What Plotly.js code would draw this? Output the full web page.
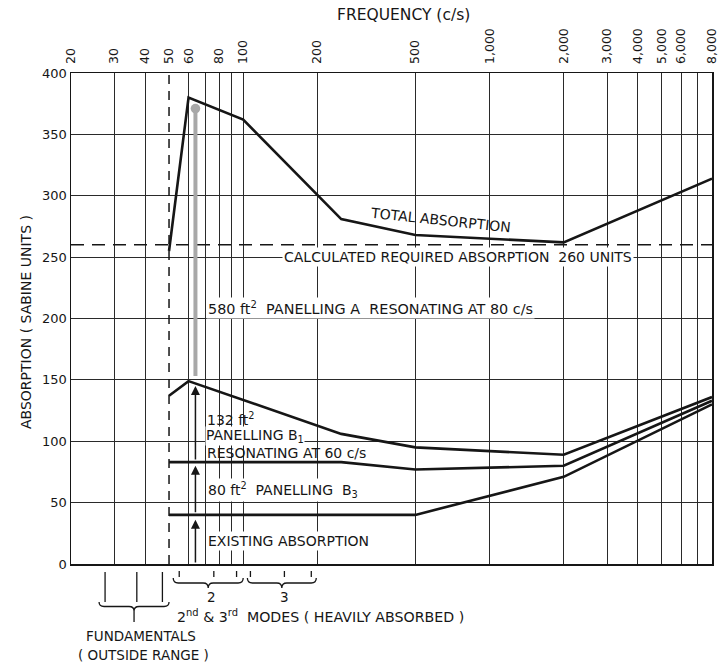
<!DOCTYPE html>
<html>
<head>
<meta charset="utf-8">
<script src="https://cdn.plot.ly/plotly-3.0.1.min.js"></script>
<style>html,body{margin:0;padding:0;background:#fff;}#chart{width:723px;height:667px;}</style>
</head>
<body>
<div id="chart"></div>
<script>
// ---- data ----
const freqLabelVals = [20, 30, 40, 50, 60, 80, 100, 200, 500, 1000, 2000, 3000, 4000, 5000, 6000, 8000];
const freqLabelText = ['20', '30', '40', '50', '60', '80', '100', '200', '500', '1,000', '2,000', '3,000', '4,000', '5,000', '6,000', '8,000'];
const gridFreqs = [30, 40, 60, 70, 80, 90, 100, 200, 500, 1000, 2000, 3000, 4000, 5000, 6000, 7000];

const totalFreq = [50, 60, 100, 250, 500, 2000, 8000];
const totalAbs = [255, 380, 362, 281, 268, 262, 314];

const b1Freq = [50, 60, 250, 500, 2000, 8000];
const b1Abs = [137, 149, 106, 95, 89, 136];

const b3Freq = [50, 250, 500, 2000, 8000];
const b3Abs = [83, 83, 77, 80, 133];

const existingFreq = [50, 500, 2000, 8000];
const existingAbs = [40, 40, 71, 130];

const requiredAbs = 260;
const lowerLimitFreq = 50;
const arrowFreq = 64;
const fundamentalsTicks = [27.5, 37, 47];
const mode2Ticks = [55, 76, 94];
const mode3Ticks = [107, 147, 189];

// ---- layout geometry ----
const W = 723, H = 667;
const M = {l: 71, r: 11, t: 73, b: 103};
const PW = W - M.l - M.r, PH = H - M.t - M.b;
const FMIN = 20, FMAX = 8000;
const px = x => (x - M.l) / PW;          // pixel -> paper x
const py = y => (H - M.b - y) / PH;      // pixel -> paper y
const fpx = f => M.l + PW * Math.log10(f / FMIN) / Math.log10(FMAX / FMIN);

const FONT = 'DejaVu Sans, sans-serif';
const INK = '#161616';

const lineStyle = {color: INK, width: 2.6};
const traces = [
  {x: totalFreq, y: totalAbs, mode: 'lines', line: lineStyle, hoverinfo: 'skip'},
  {x: b1Freq, y: b1Abs, mode: 'lines', line: lineStyle, hoverinfo: 'skip'},
  {x: b3Freq, y: b3Abs, mode: 'lines', line: lineStyle, hoverinfo: 'skip'},
  {x: existingFreq, y: existingAbs, mode: 'lines', line: lineStyle, hoverinfo: 'skip'},
  {x: [FMIN, FMAX], y: [requiredAbs, requiredAbs], mode: 'lines',
   line: {color: INK, width: 1.5, dash: '13px,8px'}, hoverinfo: 'skip'},
  {x: [lowerLimitFreq, lowerLimitFreq], y: [0, 400], mode: 'lines', xaxis: 'x2',
   line: {color: INK, width: 1.5, dash: '9px,7px'}, hoverinfo: 'skip'}
];

function brace(xL, xR, yTop, depth) {
  const mid = (xL + xR) / 2, r = 5, ym = yTop + depth / 2, yb = yTop + depth;
  const P = (x, y) => px(x).toFixed(5) + ',' + py(y).toFixed(5);
  return 'M' + P(xL, yTop) + ' Q' + P(xL, ym) + ' ' + P(xL + r, ym) +
    ' L' + P(mid - r, ym) + ' Q' + P(mid, ym) + ' ' + P(mid, yb) +
    ' Q' + P(mid, ym) + ' ' + P(mid + r, ym) + ' L' + P(xR - r, ym) +
    ' Q' + P(xR, ym) + ' ' + P(xR, yTop);
}

const shapes = [];
const thin = {color: INK, width: 1.3};
fundamentalsTicks.forEach(f => shapes.push({type: 'line', xref: 'paper', yref: 'paper',
  x0: px(fpx(f)), x1: px(fpx(f)), y0: py(572), y1: py(602), line: thin}));
mode2Ticks.concat(mode3Ticks).forEach(f => shapes.push({type: 'line', xref: 'paper', yref: 'paper',
  x0: px(fpx(f)), x1: px(fpx(f)), y0: py(571), y1: py(577), line: thin}));
shapes.push({type: 'path', xref: 'paper', yref: 'paper', path: brace(fpx(26), fpx(50), 602, 9), line: thin});
shapes.push({type: 'line', xref: 'paper', yref: 'paper', x0: px((fpx(26) + fpx(50)) / 2), x1: px((fpx(26) + fpx(50)) / 2), y0: py(611), y1: py(622), line: thin});
shapes.push({type: 'path', xref: 'paper', yref: 'paper', path: brace(fpx(52), fpx(100), 578, 10), line: thin});
shapes.push({type: 'path', xref: 'paper', yref: 'paper', path: brace(fpx(104), fpx(198), 578, 10), line: thin});

const tf = s => ({family: FONT, size: s, color: INK});
const ann = (text, x, y, opts) => Object.assign({text: text, xref: 'paper', yref: 'paper', x: x, y: y,
  showarrow: false, font: tf(14), xanchor: 'center', yanchor: 'middle'}, opts || {});

const annotations = [
  ann('FREQUENCY (c/s)', px(403), py(15), {font: tf(15.5)}),
  ann('ABSORPTION ( SABINE UNITS )', px(26), py(322), {textangle: -90, font: tf(14)}),
  ann('TOTAL ABSORPTION', px(440), py(220), {textangle: 6}),
  ann('CALCULATED REQUIRED ABSORPTION  260 UNITS', px(458), py(257), {bgcolor: '#fff'}),
  ann('580 ft<sup>2</sup>  PANELLING A  RESONATING AT 80 c/s', px(206), py(308), {xanchor: 'left', bgcolor: '#fff', font: tf(14.4)}),
  ann('PANELLING B<sub>1</sub>', px(205), py(436), {xanchor: 'left', bgcolor: '#fff', borderpad: 0}),
  ann('132 ft<sup>2</sup>', px(205), py(419), {xanchor: 'left'}),
  ann('RESONATING AT 60 c/s', px(205), py(453), {xanchor: 'left'}),
  ann('80 ft<sup>2</sup>  PANELLING  B<sub>3</sub>', px(206), py(490), {xanchor: 'left', bgcolor: '#fff'}),
  ann('EXISTING ABSORPTION', px(206), py(541), {xanchor: 'left', bgcolor: '#fff'}),
  ann('2', px(211), py(597), {font: tf(13.5)}),
  ann('3', px(284), py(597), {font: tf(13.5)}),
  ann('2<sup>nd</sup> &amp; 3<sup>rd</sup>  MODES ( HEAVILY ABSORBED )', px(175), py(616), {xanchor: 'left', font: tf(14.2)}),
  ann('FUNDAMENTALS', px(141), py(636), {font: tf(13.5)}),
  ann('( OUTSIDE RANGE )', px(143), py(655), {font: tf(13.5)}),
  // arrows (log axis: annotation x in log10 units)
  {x: Math.log10(arrowFreq), y: 371, xref: 'x', yref: 'y', ax: 0, ay: 152, axref: 'pixel', ayref: 'y',
   showarrow: true, arrowhead: 6, arrowsize: 0.6, arrowwidth: 4, arrowcolor: '#a8a8a8', text: ''},
  {x: Math.log10(arrowFreq), y: 36, xref: 'x', yref: 'y', ax: 0, ay: 0, axref: 'pixel', ayref: 'y',
   showarrow: true, arrowhead: 2, arrowsize: 1.2, arrowwidth: 1.5, arrowcolor: INK, text: ''},
  {x: Math.log10(arrowFreq), y: 80, xref: 'x', yref: 'y', ax: 0, ay: 41, axref: 'pixel', ayref: 'y',
   showarrow: true, arrowhead: 2, arrowsize: 1.2, arrowwidth: 1.5, arrowcolor: INK, text: ''},
  {x: Math.log10(arrowFreq), y: 145, xref: 'x', yref: 'y', ax: 0, ay: 84, axref: 'pixel', ayref: 'y',
   showarrow: true, arrowhead: 2, arrowsize: 1.2, arrowwidth: 1.5, arrowcolor: INK, text: ''}
];

const logRange = [Math.log10(FMIN), Math.log10(FMAX)];
const layout = {
  width: W, height: H,
  margin: M,
  paper_bgcolor: '#fff', plot_bgcolor: '#fff',
  showlegend: false,
  font: {family: FONT, size: 12, color: INK},
  xaxis: {type: 'log', range: logRange, tickmode: 'array', tickvals: gridFreqs,
    showticklabels: false, ticks: '', showgrid: true, gridcolor: '#2a2a2a', gridwidth: 1,
    showline: true, mirror: true, linecolor: INK, linewidth: 1.5, zeroline: false, fixedrange: true},
  xaxis2: {type: 'log', range: logRange, overlaying: 'x', side: 'top', anchor: 'y',
    tickmode: 'array', tickvals: freqLabelVals, ticktext: freqLabelText, tickangle: -90,
    ticks: '', ticklabelstandoff: 8, showgrid: false, zeroline: false, showline: false,
    tickfont: {family: FONT, size: 12.5, color: INK}},
  yaxis: {range: [0, 400], tickmode: 'linear', tick0: 0, dtick: 50, ticks: '',
    showgrid: true, gridcolor: '#2a2a2a', gridwidth: 1, showline: true, mirror: true,
    linecolor: INK, linewidth: 1.5, zeroline: false, tickfont: {family: FONT, size: 13, color: INK}},
  shapes: shapes,
  annotations: annotations
};

Plotly.newPlot('chart', traces, layout, {staticPlot: true, displayModeBar: false});
</script>
</body>
</html>
